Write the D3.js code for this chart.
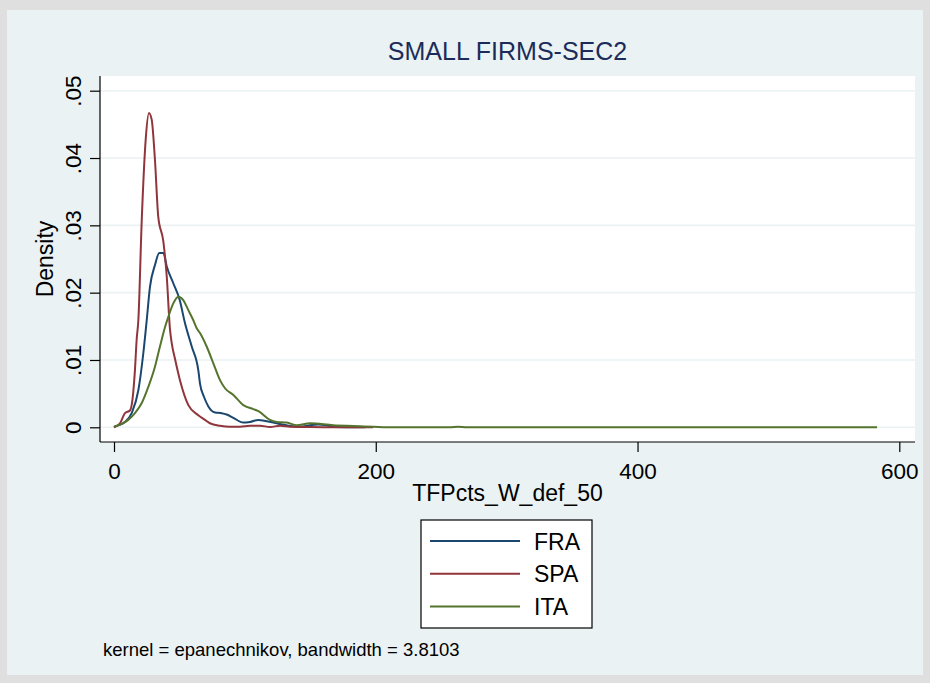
<!DOCTYPE html>
<html>
<head>
<meta charset="utf-8">
<script src="https://cdn.jsdelivr.net/npm/d3@7"></script>
<style>
  html, body { margin: 0; padding: 0; background: #dfdfdf; }
  svg { display: block; }
  text { font-family: "Liberation Sans", Arial, sans-serif; }
</style>
</head>
<body>
<svg id="chart" width="930" height="683"></svg>
<script>
// Kernel density estimates of TFPcts_W_def_50, small firms in sector 2
const fraX = [0, 0.8, 8.4, 13.5, 18.6, 22.4, 25.0, 27.5, 31.3, 34.6, 37.7, 40.3, 45.3, 50.2, 54.2, 59.4, 64.4, 65.7, 68.8, 72.1, 77.2, 82.3, 86.1, 91.2, 98.8, 103.9, 110.3, 116.7, 124.3, 134.5, 142.1, 149.8, 155.9, 162.0, 168.9, 180, 192];
const fraY = [0, 0.0001, 0.0008, 0.0021, 0.0055, 0.0110, 0.0159, 0.0209, 0.0241, 0.0259, 0.0259, 0.0239, 0.0214, 0.0189, 0.0155, 0.0120, 0.0085, 0.0065, 0.0045, 0.0031, 0.0022, 0.0021, 0.0019, 0.0014, 0.0007, 0.0008, 0.0011, 0.0009, 0.0006, 0.0002, 0.0001, 0.0003, 0.0004, 0.0003, 0.00005, 0.00002, 0];

const spaX = [0, 4.6, 8.4, 12.2, 13.5, 16.0, 17.3, 18.6, 21.2, 24.2, 26.7, 28.8, 31.3, 33.8, 37.7, 40.3, 42.8, 44.1, 46.8, 50.4, 56.8, 64.4, 69.5, 73.3, 81.0, 88.6, 96.3, 103.9, 111.6, 119.2, 126.8, 134.5, 150, 170, 198];
const spaY = [0, 0.0006, 0.0021, 0.0025, 0.0033, 0.0085, 0.0130, 0.0159, 0.0308, 0.0427, 0.0467, 0.0457, 0.0397, 0.0313, 0.0276, 0.0224, 0.0145, 0.0125, 0.0100, 0.0070, 0.0033, 0.0018, 0.0011, 0.0006, 0.00024, 0.0001, 0.0001, 0.00024, 0.00024, 0.00004, 0.00024, 0.0001, 0.00003, 0.00002, 0];

const itaX = [0, 5.9, 10.9, 16.0, 21.2, 26.2, 31.3, 35.1, 39.0, 41.5, 45.3, 49.1, 52.9, 56.8, 60.6, 63.2, 65.7, 70.8, 75.9, 81.0, 84.8, 91.2, 98.8, 106.4, 110.3, 119.2, 124.3, 132.0, 139.6, 149.8, 167.6, 182.8, 198.1, 208.4, 256.7, 262.8, 269.7, 583];
const itaY = [0.0001, 0.0005, 0.0011, 0.0021, 0.0036, 0.0060, 0.0090, 0.0120, 0.0149, 0.0164, 0.0184, 0.0194, 0.0189, 0.0174, 0.0159, 0.0147, 0.0140, 0.0120, 0.0095, 0.0070, 0.0058, 0.0048, 0.0033, 0.0027, 0.0024, 0.0011, 0.0008, 0.0007, 0.0003, 0.0006, 0.0003, 0.0002, 0.0001, 0, 0, 0.0001, 0, 0];

const seriesNames = ["FRA", "SPA", "ITA"];
const seriesColors = ["#1a476f", "#90353b", "#55752f"];
const xTicks = [0, 200, 400, 600];
const yTicks = [0, 0.01, 0.02, 0.03, 0.04, 0.05];
const yTickLabels = ["0", ".01", ".02", ".03", ".04", ".05"];

const titleText = "SMALL FIRMS-SEC2";
const xTitle = "TFPcts_W_def_50";
const yTitle = "Density";
const noteText = "kernel = epanechnikov, bandwidth = 3.8103";

const series = [
  { name: seriesNames[0], color: seriesColors[0], pts: fraX.map((x, i) => [x, fraY[i]]) },
  { name: seriesNames[1], color: seriesColors[1], pts: spaX.map((x, i) => [x, spaY[i]]) },
  { name: seriesNames[2], color: seriesColors[2], pts: itaX.map((x, i) => [x, itaY[i]]) }
];

const W = 930, H = 683;
const svg = d3.select("#chart");

// outer frame and inner panel
svg.append("rect").attr("x", 0).attr("y", 0).attr("width", W).attr("height", H).attr("fill", "#dfdfdf");
svg.append("rect").attr("x", 7).attr("y", 10).attr("width", W - 14).attr("height", H - 18).attr("fill", "#eaf2f3");

const plot = { left: 100, top: 76, right: 915, bottom: 442 };

// plot region
svg.append("rect")
  .attr("x", plot.left).attr("y", plot.top)
  .attr("width", plot.right - plot.left).attr("height", plot.bottom - plot.top)
  .attr("fill", "#ffffff");

const x = d3.scaleLinear().domain([0, 600]).range([114, 899.3]);
const y = d3.scaleLinear().domain([0, 0.05]).range([427.3, 90.7]);

// horizontal grid
svg.append("g").selectAll("line").data(yTicks).join("line")
  .attr("x1", plot.left).attr("x2", plot.right)
  .attr("y1", d => y(d)).attr("y2", d => y(d))
  .attr("stroke", "#eaf2f3").attr("stroke-width", 1.6);

// density curves
const line = d3.line().x(d => x(d[0])).y(d => y(d[1])).curve(d3.curveMonotoneX);
svg.append("g").selectAll("path").data(series).join("path")
  .attr("d", d => line(d.pts))
  .attr("fill", "none")
  .attr("stroke", d => d.color)
  .attr("stroke-width", 2)
  .attr("stroke-linejoin", "round");

// y axis
const yAxis = d3.axisLeft(y).tickValues(yTicks).tickSize(10).tickFormat((d, i) => yTickLabels[i]);
const gy = svg.append("g").attr("transform", `translate(${plot.left},0)`).call(yAxis);
gy.select(".domain").attr("d", `M0,${plot.top}V${plot.bottom}`).attr("stroke", "#000").attr("stroke-width", 1.2);
gy.selectAll(".tick line").attr("stroke", "#000").attr("stroke-width", 1.2);
gy.selectAll(".tick text")
  .attr("font-size", 22.5).attr("fill", "#000")
  .attr("x", 0).attr("dy", 0)
  .attr("text-anchor", "middle")
  .attr("transform", "translate(-19,0) rotate(-90)");

// x axis
const xAxis = d3.axisBottom(x).tickValues(xTicks).tickSize(10).tickFormat(d3.format("d"));
const gx = svg.append("g").attr("transform", `translate(0,${plot.bottom})`).call(xAxis);
gx.select(".domain").attr("d", `M${plot.left},0H${plot.right}`).attr("stroke", "#000").attr("stroke-width", 1.2);
gx.selectAll(".tick line").attr("stroke", "#000").attr("stroke-width", 1.2);
gx.selectAll(".tick text").attr("font-size", 22.5).attr("fill", "#000").attr("y", 37).attr("dy", 0);

// titles
svg.append("text").attr("x", (plot.left + plot.right) / 2).attr("y", 60)
  .attr("text-anchor", "middle").attr("font-size", 25).attr("fill", "#1c2c5a").text(titleText);
svg.append("text").attr("x", (plot.left + plot.right) / 2).attr("y", 501)
  .attr("text-anchor", "middle").attr("font-size", 23).attr("fill", "#000").text(xTitle);
svg.append("text").attr("transform", `translate(53,${(plot.top + plot.bottom) / 2}) rotate(-90)`)
  .attr("text-anchor", "middle").attr("font-size", 23).attr("fill", "#000").text(yTitle);

// legend
const lg = svg.append("g");
lg.append("rect").attr("x", 421).attr("y", 520).attr("width", 171).attr("height", 108)
  .attr("fill", "#ffffff").attr("stroke", "#000").attr("stroke-width", 1.2);
const rows = lg.selectAll("g.row").data(series).join("g").attr("class", "row")
  .attr("transform", (d, i) => `translate(0,${541 + i * 32.8})`);
rows.append("line").attr("x1", 430).attr("x2", 520).attr("y1", 0).attr("y2", 0)
  .attr("stroke", d => d.color).attr("stroke-width", 2);
rows.append("text").attr("x", 534).attr("y", 8.5).attr("font-size", 23).attr("fill", "#000").text(d => d.name);

// note
svg.append("text").attr("x", 103).attr("y", 656).attr("font-size", 18.5).attr("fill", "#000").text(noteText);
</script>
</body>
</html>
